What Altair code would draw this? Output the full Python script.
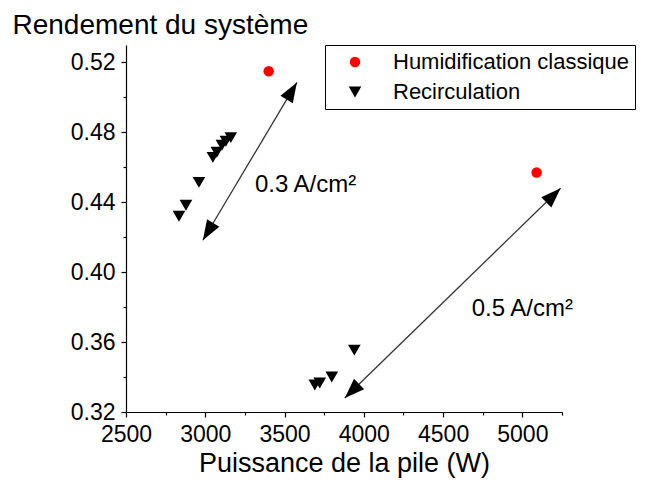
import altair as alt
import pandas as pd

FONT = "Liberation Sans"

# ---- data ----
series_names = ["Humidification classique", "Recirculation"]
humid_power = [3400, 5090]
humid_eff = [0.515, 0.457]
recirc_power = [3161, 3130, 3105, 3073, 3048, 2960, 2878, 2834, 3940, 3798, 3722, 3691]
recirc_eff = [0.477, 0.4749, 0.4726, 0.4686, 0.4657, 0.4514, 0.4383, 0.432, 0.3554, 0.340, 0.3366, 0.3354]

x_ticks = [2500, 2750, 3000, 3250, 3500, 3750, 4000, 4250, 4500, 4750, 5000, 5250]
y_ticks = [0.32, 0.34, 0.36, 0.38, 0.40, 0.42, 0.44, 0.46, 0.48, 0.50, 0.52]
x_domain = [2500, 5250]
y_domain = [0.32, 0.53]

# annotations (double arrows + current density labels)
arrow_x1 = [2985, 3880]
arrow_y1 = [0.4183, 0.328]
arrow_x2 = [3578, 5241]
arrow_y2 = [0.5086, 0.448]
arrow_angle = [31, 45.5]
label_text = ["0.3 A/cm²", "0.5 A/cm²"]
label_x = [3313, 4680]
label_y = [0.4457, 0.3749]

X_TITLE = "Puissance de la pile (W)"
Y_TITLE = "Rendement du système"

df_pts = pd.DataFrame({
    "power": humid_power + recirc_power,
    "eff": humid_eff + recirc_eff,
    "series": [series_names[0]] * len(humid_power) + [series_names[1]] * len(recirc_power),
})
df_arrows = pd.DataFrame({"power": arrow_x1, "eff": arrow_y1, "power2": arrow_x2, "eff2": arrow_y2})
heads_power, heads_eff, heads_angle = [], [], []
for i in range(len(arrow_x1)):
    heads_power += [arrow_x2[i], arrow_x1[i]]
    heads_eff += [arrow_y2[i], arrow_y1[i]]
    heads_angle += [arrow_angle[i], arrow_angle[i] + 180]
df_heads = pd.DataFrame({"power": heads_power, "eff": heads_eff, "angle": heads_angle})
df_labels = pd.DataFrame({"power": label_x, "eff": label_y, "text": label_text})

x_axis = alt.Axis(
    values=x_ticks, grid=False, format="d", labelOverlap=False, labelFlush=False,
    labelExpr="datum.value % 500 == 0 ? datum.label : ''",
    tickSize={"condition": {"test": "datum.value % 500 != 0", "value": 3}, "value": 5},
    labelPadding=6, titleFontSize=27, titleY=59, titleBaseline="alphabetic",
)
y_axis = alt.Axis(
    values=y_ticks, grid=False, format=".2f", labelOverlap=False, labelFlush=False,
    labelExpr="round(datum.value * 100) % 4 == 0 ? datum.label : ''",
    tickSize={"condition": {"test": "round(datum.value * 100) % 4 != 0", "value": 3}, "value": 5},
    labelPadding=6, titleFontSize=28, titleAngle=0, titleAlign="left",
    titleBaseline="alphabetic", titleX=-114, titleY=-12,
)
xs = alt.Scale(domain=x_domain, nice=False, zero=False)
ys = alt.Scale(domain=y_domain, nice=False, zero=False)

def X(field="power"):
    return alt.X(f"{field}:Q", scale=xs, axis=x_axis, title=X_TITLE)

def Y(field="eff"):
    return alt.Y(f"{field}:Q", scale=ys, axis=y_axis, title=Y_TITLE)

points = alt.Chart(df_pts).mark_point(filled=True, opacity=1, strokeWidth=0).encode(
    x=X(), y=Y(),
    color=alt.Color("series:N", scale=alt.Scale(domain=series_names, range=["#ff0000", "#000000"]),
                    legend=alt.Legend(title=None, orient="none", legendX=199, legendY=0,
                                      direction="vertical", strokeColor="black", fillColor="white",
                                      padding=6, labelFont=FONT, labelFontSize=22, labelColor="black",
                                      labelLimit=600, symbolOffset=13, labelOffset=27, rowPadding=8,
                                      symbolSize=121, symbolStrokeWidth=0)),
    shape=alt.Shape("series:N", scale=alt.Scale(domain=series_names, range=["circle", "triangle-down"])),
    size=alt.Size("series:N", scale=alt.Scale(domain=series_names, range=[110, 160]), legend=None),
)

lines = alt.Chart(df_arrows).mark_rule(color="#333333", strokeWidth=1.3).encode(
    x=X(), y=Y(), x2=alt.X2("power2:Q", title=X_TITLE), y2=alt.Y2("eff2:Q", title=Y_TITLE),
)

heads = alt.Chart(df_heads).mark_point(
    shape="M0,0 L-0.36,1 L0.36,1 Z", filled=True, opacity=1, color="black", strokeWidth=0, size=1600,
).encode(x=X(), y=Y(), angle=alt.Angle("angle:Q", scale=None))

labels = alt.Chart(df_labels).mark_text(
    align="left", baseline="alphabetic", font=FONT, fontSize=24, color="black",
).encode(x=X(), y=Y(), text="text:N")

chart = alt.layer(points, lines, heads, labels).properties(
    width=436, height=367,
    autosize=alt.AutoSizeParams(type="none"),
    padding={"left": 118, "top": 37, "right": 77, "bottom": 68},
).configure_view(stroke=None).configure_axis(
    domainColor="black", tickColor="black", labelColor="black", titleColor="black",
    labelFont=FONT, titleFont=FONT, labelFontSize=23, titleFontWeight="normal",
    domainWidth=1.2, tickWidth=1.2,
)

chart.save("out.html", embed_options={"renderer": "svg", "actions": False})
